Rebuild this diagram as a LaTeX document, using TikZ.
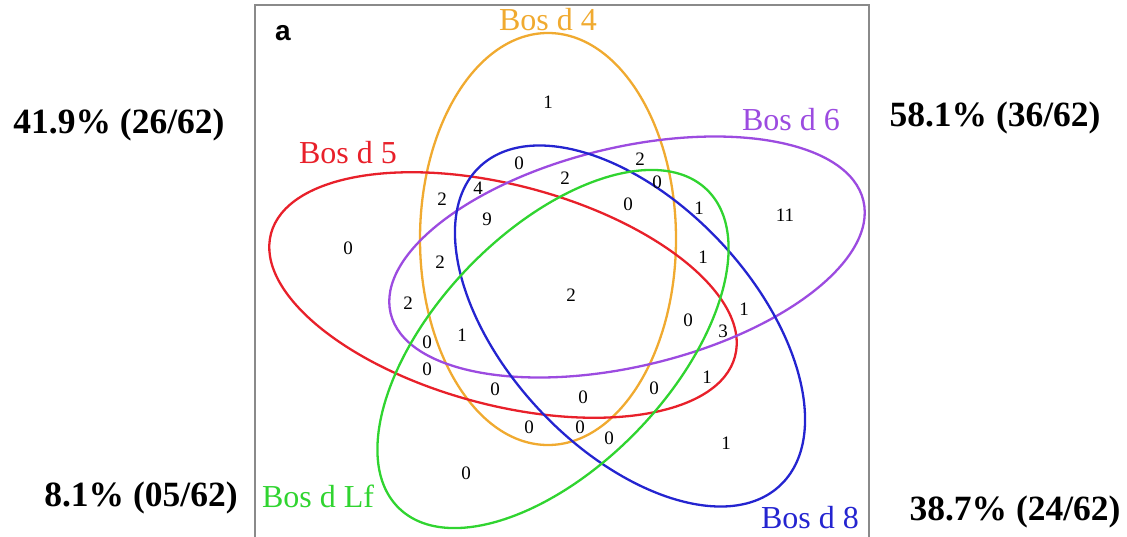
\documentclass[tikz,border=0pt]{standalone}
\usepackage{fontspec}
\setmainfont{Liberation Serif}
\newfontfamily\sansbold{Liberation Sans}
\definecolor{cOrange}{HTML}{F0AA30}
\definecolor{cRed}{HTML}{E8202A}
\definecolor{cPurple}{HTML}{9C4BE0}
\definecolor{cBlue}{HTML}{2424D0}
\definecolor{cGreen}{HTML}{30D430}
\definecolor{cFrame}{HTML}{8A8A8A}
\begin{document}
\begin{tikzpicture}[x=1pt,y=-1pt,
  setline/.style={line width=2.3pt},
  num/.style={font=\fontsize{19}{19}\selectfont, inner sep=0pt},
  setlabel/.style={font=\fontsize{32}{32}\selectfont, inner sep=0pt},
  pct/.style={font=\fontsize{35.5}{35.5}\selectfont\bfseries, inner sep=0pt}]
\useasboundingbox (0,0) rectangle (1127,536);
% frame
\draw[cFrame, line width=1.6pt] (255,545) -- (255,5) -- (869,5) -- (869,545);
\node[font=\sansbold\fontsize{28}{28}\selectfont\bfseries, inner sep=0pt] (pa) at (283,33) {a};
% ellipses
\draw[setline, cOrange] (548,239) ellipse (128 and 206);
\draw[setline, cRed, rotate around={-14.8:(503,295)}] (503,295) ellipse (240 and 110);
\draw[setline, cPurple, rotate around={13.4:(627,257)}] (627,257) ellipse (243 and 109.5);
\draw[setline, cBlue, rotate around={-46.7:(630,326)}] (630,326) ellipse (219 and 123.5);
\draw[setline, cGreen, rotate around={46:(553,349)}] (553,349) ellipse (221.5 and 117.5);
% set labels
\node[setlabel, text=cOrange] (l4) at (548,20) {Bos d 4};
\node[setlabel, text=cRed] (l5) at (348,153) {Bos d 5};
\node[setlabel, text=cPurple] (l6) at (791,120) {Bos d 6};
\node[setlabel, text=cBlue] (l8) at (810,518) {Bos d 8};
\node[setlabel, text=cGreen] (lf) at (318,496) {Bos d Lf};
% region counts
\node[num] (n1) at (548,102) {1};
\node[num] (n2) at (519,163) {0};
\node[num] (n3) at (640,159) {2};
\node[num] (n4) at (565,178) {2};
\node[num] (n5) at (657,182) {0};
\node[num] (n6) at (478,188) {4};
\node[num] (n7) at (442,199) {2};
\node[num] (n8) at (487,219) {9};
\node[num] (n9) at (628,204) {0};
\node[num] (n10) at (348,248) {0};
\node[num] (n11) at (440,262) {2};
\node[num] (n12) at (699,208) {1};
\node[num] (n13) at (785,215) {11};
\node[num] (n14) at (703,257) {1};
\node[num] (n15) at (571,295) {2};
\node[num] (n16) at (408,303) {2};
\node[num] (n17) at (462,335) {1};
\node[num] (n18) at (427,342) {0};
\node[num] (n19) at (427,369) {0};
\node[num] (n20) at (495,389) {0};
\node[num] (n21) at (583,397) {0};
\node[num] (n22) at (654,388) {0};
\node[num] (n23) at (529,427) {0};
\node[num] (n24) at (580,427) {0};
\node[num] (n25) at (609,438) {0};
\node[num] (n26) at (466,473) {0};
\node[num] (n27) at (744,309) {1};
\node[num] (n28) at (688,320) {0};
\node[num] (n29) at (723,331) {3};
\node[num] (n30) at (707,377) {1};
\node[num] (n31) at (726,443) {1};
% percentages
\node[pct] (p1) at (119,125) {41.9\% (26/62)};
\node[pct] (p2) at (995,118) {58.1\% (36/62)};
\node[pct] (p3) at (141,498) {8.1\% (05/62)};
\node[pct] (p4) at (1015,512) {38.7\% (24/62)};
\end{tikzpicture}
\end{document}
